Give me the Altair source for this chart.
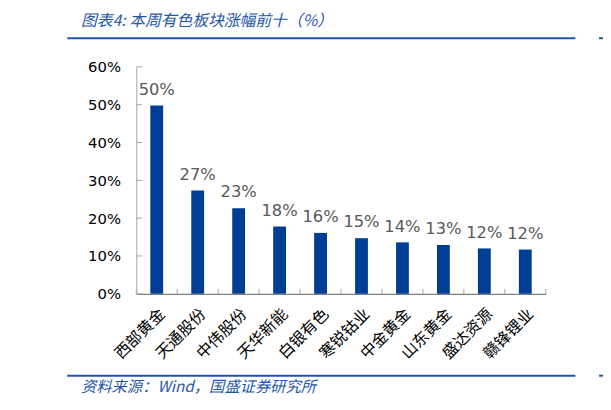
import altair as alt
import pandas as pd

# 本周有色板块涨幅前十
names = ["西部黄金", "天通股份", "中伟股份", "天华新能", "白银有色",
         "寒锐钴业", "中金黄金", "山东黄金", "盛达资源", "赣锋锂业"]
gains = [49.8, 27.3, 22.6, 17.8, 16.1, 14.7, 13.6, 12.9, 12.0, 11.7]
y_ticks = [0, 10, 20, 30, 40, 50, 60]

title_text = "图表4:  本周有色板块涨幅前十（%）"
source_text = "资料来源：Wind，国盛证券研究所"

BAR = "#003d94"
BLUE = "#1f57a8"
CJK = "Noto Sans CJK SC"

W, H = 415, 230

df = pd.DataFrame({"name": names, "gain": gains})
ticks_df = pd.DataFrame({"v": y_ticks})
one = alt.Data(values=[{"t": title_text, "s": source_text}])

x_scale = alt.Scale(paddingInner=0, paddingOuter=0)
y_scale = alt.Scale(domain=[0, 60], nice=False)
x_axis = alt.Axis(labelAngle=-45, labelFont=CJK, labelFontSize=16,
                  labelColor="#000000", labelPadding=12, ticks=False,
                  domainColor="#7f7f7f", domainWidth=1.2)
y_axis = alt.Axis(values=y_ticks, labelExpr="datum.value + '%'",
                  labelFont="DejaVu Sans", labelFontSize=15,
                  labelColor="#000000", labelPadding=16, ticks=False,
                  labelOverlap=False, grid=False, domainColor="#a6a6a6")


def xe(**kw):
    return alt.X("name:N", sort=None, title=None, scale=x_scale, axis=x_axis, **kw)


def ye(field):
    return alt.Y(field, scale=y_scale, title=None, axis=y_axis)


bars = alt.Chart(df).mark_bar(width=13, color=BAR).encode(
    x=xe(), y=ye("gain:Q"),
)

labels = alt.Chart(df).transform_calculate(
    lbl="format(datum.gain, '.0f') + '%'"
).mark_text(font="DejaVu Sans", fontSize=16.5, color="#595959",
            baseline="alphabetic", dy=-11).encode(
    x=xe(), y=ye("gain:Q"), text="lbl:N",
)

# inward ticks on both axes
y_marks = alt.Chart(ticks_df).mark_rule(color="#a6a6a6").encode(
    y=ye("v:Q"), x=alt.value(0), x2=alt.value(6)
)
x_marks = alt.Chart(df).mark_rule(color="#a6a6a6").encode(
    x=xe(bandPosition=0), y=alt.value(H - 5), y2=alt.value(H),
)
x_end = alt.Chart(df.tail(1)).mark_rule(color="#a6a6a6").encode(
    x=xe(bandPosition=1), y=alt.value(H - 5), y2=alt.value(H),
)

# frame: title, blue rules, source
title = alt.Chart(one).mark_text(font=CJK, fontSize=16, fontStyle="italic",
                                 color=BLUE, align="left", baseline="middle").encode(
    text="t:N", x=alt.value(-56), y=alt.value(-46))
source = alt.Chart(one).mark_text(font=CJK, fontSize=15.5, fontStyle="italic",
                                  color=BLUE, align="left", baseline="middle").encode(
    text="s:N", x=alt.value(-56), y=alt.value(325))
top_line = alt.Chart(one).mark_rule(color=BLUE, strokeWidth=2).encode(
    x=alt.value(-70), x2=alt.value(445), y=alt.value(-29))
top_end = alt.Chart(one).mark_rule(color=BLUE, strokeWidth=2).encode(
    x=alt.value(469), x2=alt.value(473), y=alt.value(-29))
bot_line = alt.Chart(one).mark_rule(color=BLUE, strokeWidth=2).encode(
    x=alt.value(-70), x2=alt.value(445), y=alt.value(313))
bot_end = alt.Chart(one).mark_rule(color=BLUE, strokeWidth=2).encode(
    x=alt.value(469), x2=alt.value(473), y=alt.value(313))

chart = alt.layer(
    bars, labels, y_marks, x_marks, x_end,
    title, source, top_line, top_end, bot_line, bot_end,
).properties(
    width=W, height=H,
    autosize=alt.AutoSizeParams(type="none"),
    padding={"left": 130, "top": 57, "right": 58, "bottom": 107},
).configure_view(stroke=None)

chart.save("out.html", embed_options={"renderer": "svg", "actions": False})
